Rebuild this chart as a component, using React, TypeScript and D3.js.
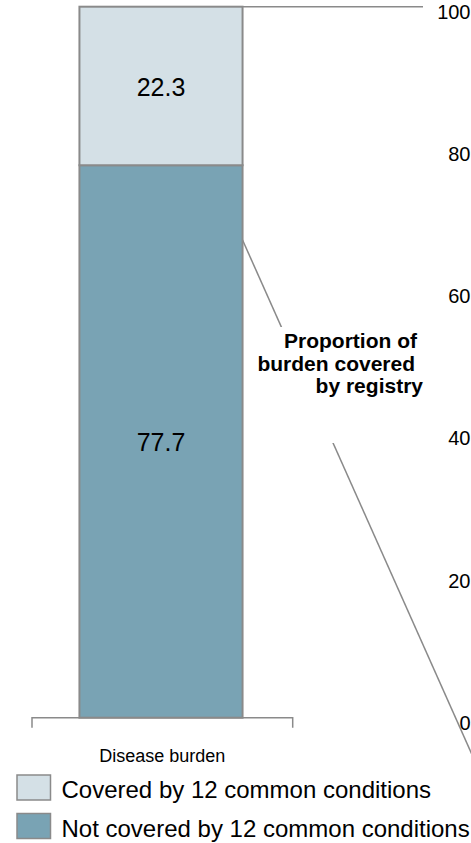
import React from "react";
import * as d3 from "d3";

// Share of total disease burden, split by whether the 12 common conditions cover it
const categories = ["Disease burden"];
const notCoveredValues = [77.7];
const coveredValues = [22.3];
const seriesLabels = ["Not covered by 12 common conditions", "Covered by 12 common conditions"];
const legendOrder = ["Covered by 12 common conditions", "Not covered by 12 common conditions"];
const rightAxisTicks = [0, 20, 40, 60, 80, 100];
const calloutLines = ["Proportion of", "burden covered", "by registry"];

const W = 471;
const H = 843;
const FONT = "'Liberation Sans', Arial, Helvetica, sans-serif";
const GRID = "#8a8a8a";
const COLORS: Record<string, string> = {
  "Covered by 12 common conditions": "#d4e0e6",
  "Not covered by 12 common conditions": "#79a3b4",
};

export default function App() {
  const y = d3.scaleLinear().domain([0, 100]).range([717.7, 6.7]);
  const x = d3
    .scaleBand<string>()
    .domain(categories)
    .range([30.5, 291.5])
    .paddingInner(0.2308)
    .paddingOuter(0.2308);

  const rows = categories.map((c, i) => ({
    category: c,
    "Not covered by 12 common conditions": notCoveredValues[i],
    "Covered by 12 common conditions": coveredValues[i],
  }));
  const stacked = d3.stack<any>().keys(seriesLabels)(rows);

  const bw = x.bandwidth();
  const barRight = (x(categories[0]) ?? 0) + bw;
  const axisY = y(0);
  const [ax0, ax1] = [32, 292.7];

  // connector from the bar to the (off-canvas) breakdown column
  const linkStartY = 240;
  const linkEnd: [number, number] = [486, 786];
  const slope = (linkEnd[1] - linkStartY) / (linkEnd[0] - barRight);

  return (
    <svg
      width={W}
      height={H}
      style={{ position: "absolute", left: 0, top: 0, background: "#fff" }}
      fontFamily={FONT}
    >
      {/* top connector */}
      <line x1={barRight} y1={y(100)} x2={423} y2={y(100)} stroke={GRID} strokeWidth={1.5} />
      {/* lower connector */}
      <line
        x1={barRight}
        y1={linkStartY}
        x2={linkEnd[0]}
        y2={linkEnd[1]}
        stroke={GRID}
        strokeWidth={1.5}
      />

      {/* right-hand value axis labels */}
      {rightAxisTicks.map((t) => (
        <text key={t} x={470.5} y={y(t) + 12} textAnchor="end" fontSize={20} fill="#000">
          {t}
        </text>
      ))}

      {/* callout label with white backing */}
      <rect x={260} y={327} width={170} height={116} fill="#fff" />
      {calloutLines.map((l, i) => (
        <text
          key={l}
          x={[417, 415, 423][i]}
          y={348.3 + i * 22.5}
          textAnchor="end"
          fontSize={21}
          fontWeight="bold"
          fill="#000"
        >
          {l}
        </text>
      ))}

      {/* stacked bar */}
      {stacked.map((s) =>
        s.map((d, i) => {
          const x0 = x(categories[i]) ?? 0;
          const top = y(d[1]);
          const bottom = y(d[0]);
          const value = d[1] - d[0];
          return (
            <g key={s.key + i}>
              <rect
                x={x0}
                y={top}
                width={bw}
                height={bottom - top}
                fill={COLORS[s.key]}
                stroke={GRID}
                strokeWidth={2}
              />
              <text
                x={x0 + bw / 2}
                y={(top + bottom) / 2 + 10}
                textAnchor="middle"
                fontSize={25}
                fill="#000"
              >
                {value.toFixed(1)}
              </text>
            </g>
          );
        })
      )}

      {/* category axis */}
      <path
        d={`M${ax0},${axisY + 10}V${axisY}H${ax1}V${axisY + 10}`}
        fill="none"
        stroke={GRID}
        strokeWidth={1.5}
      />
      <text x={(ax0 + ax1) / 2} y={762} textAnchor="middle" fontSize={18} fill="#000">
        {categories[0]}
      </text>

      {/* legend */}
      {legendOrder.map((k, i) => (
        <g key={k} transform={`translate(0, ${i * 38.5})`}>
          <rect x={17} y={775} width={33.5} height={25} fill={COLORS[k]} stroke={GRID} strokeWidth={1.5} />
          <text x={61.5} y={798} fontSize={24} fill="#000">
            {k}
          </text>
        </g>
      ))}
    </svg>
  );
}
